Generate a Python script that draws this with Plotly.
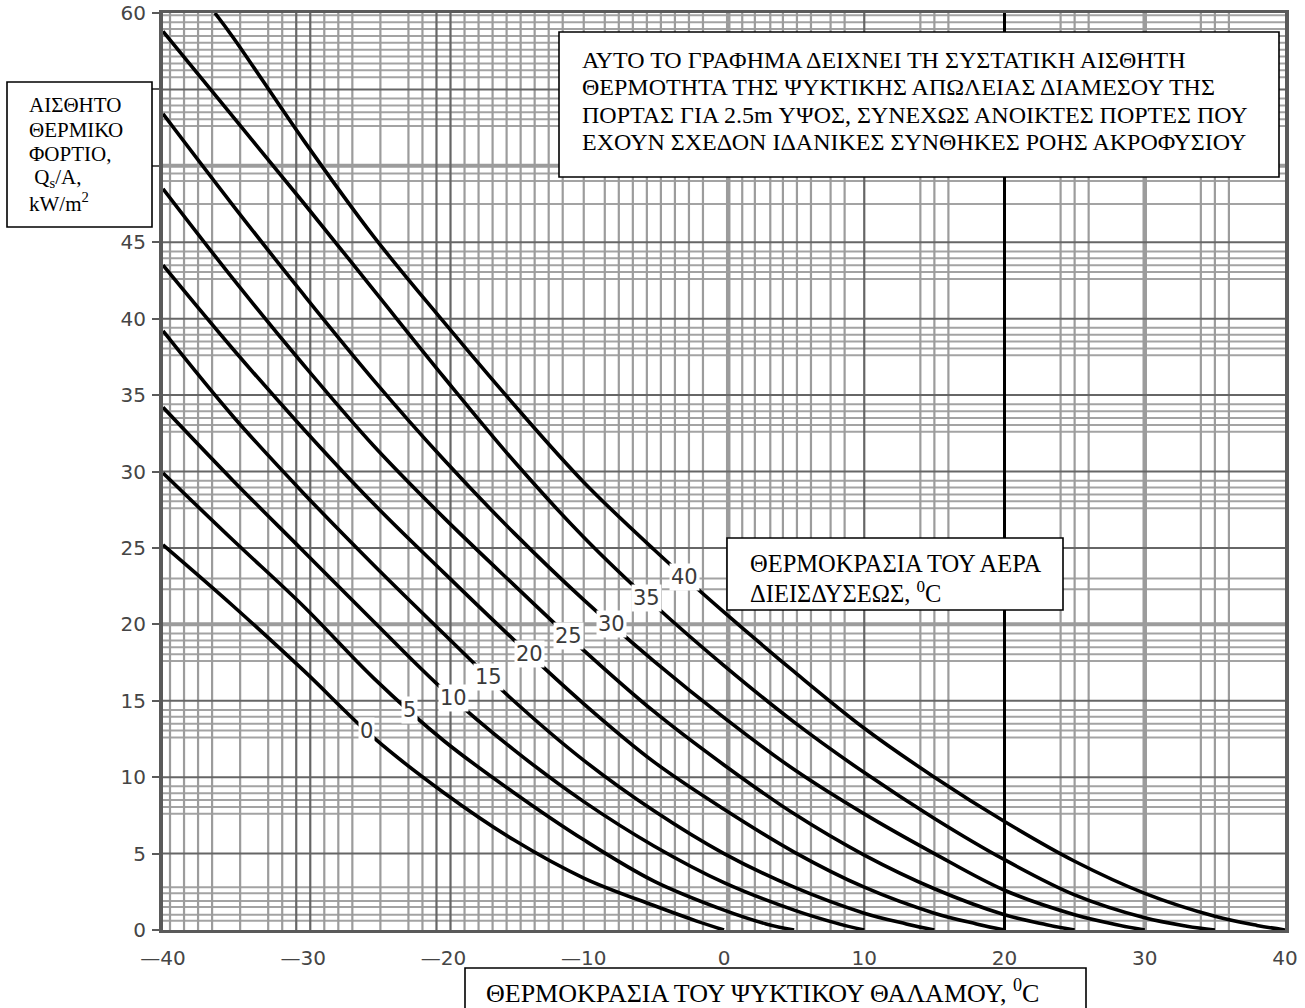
import numpy as np
import plotly.graph_objects as go

# ---------------------------------------------------------------------------
# Sensible heat load of a continuously open 2.5 m door, kW/m^2
# x: cold-room temperature (degC), one curve per infiltration-air temperature
# ---------------------------------------------------------------------------
air_temps = [0, 5, 10, 15, 20, 25, 30, 35, 40]

room_t0 = [-40, -35, -30, -25, -20, -15, -10, -5, -2, 0]
load_t0 = [25.2, 21.2, 17.0, 12.6, 9.0, 5.9, 3.4, 1.6, 0.6, 0.0]

room_t5 = [-40, -35, -30, -25, -20, -15, -10, -5, 0, 3, 5]
load_t5 = [29.9, 25.5, 21.2, 16.5, 12.4, 9.0, 5.9, 3.2, 1.3, 0.4, 0.0]

room_t10 = [-40, -35, -30, -25, -20, -15, -10, -5, 0, 5, 8, 10]
load_t10 = [34.2, 29.4, 24.8, 20.2, 15.7, 11.8, 8.4, 5.5, 3.1, 1.3, 0.45, 0.0]

room_t15 = [-40, -35, -30, -25, -20, -15, -10, -5, 0, 5, 10, 13, 15]
load_t15 = [39.2, 33.6, 28.6, 23.9, 19.4, 15.0, 11.1, 7.8, 5.0, 2.8, 1.1, 0.4, 0.0]

room_t20 = [-40, -35, -30, -25, -20, -15, -10, -5, 0, 5, 10, 15, 18, 20]
load_t20 = [43.5, 38.0, 32.8, 27.9, 23.4, 19.0, 14.8, 11.0, 7.9, 5.1, 2.8, 1.1, 0.4, 0.0]

room_t25 = [-40, -35, -30, -25, -20, -15, -10, -5, 0, 5, 10, 15, 20, 23, 25]
load_t25 = [48.5, 42.6, 37.0, 31.7, 27.0, 22.6, 18.3, 14.3, 10.8, 7.6, 4.9, 2.7, 1.0, 0.35, 0.0]

room_t30 = [-40, -35, -30, -25, -20, -15, -10, -5, 0, 5, 10, 15, 20, 25, 28, 30]
load_t30 = [53.4, 47.4, 41.6, 36.0, 30.8, 26.0, 21.6, 17.6, 13.9, 10.5, 7.6, 5.0, 2.6, 1.0, 0.35, 0.0]

room_t35 = [-40, -35, -30, -25, -20, -15, -10, -5, 0, 5, 10, 15, 20, 25, 30, 33, 35]
load_t35 = [58.8, 53.2, 47.6, 41.9, 36.2, 30.7, 25.7, 21.3, 17.3, 13.6, 10.3, 7.3, 4.6, 2.3, 0.8, 0.25, 0.0]

room_t40 = [-36.3, -35, -30, -25, -20, -15, -10, -5, 0, 5, 10, 15, 20, 25, 30, 35, 38, 40]
load_t40 = [60.0, 58.4, 51.7, 45.4, 39.8, 34.4, 29.3, 24.9, 20.8, 16.9, 13.2, 10.0, 7.1, 4.5, 2.4, 0.9, 0.3, 0.0]

# where each curve carries its temperature tag
tag_room_temp = [-25.5, -22.4, -19.3, -16.8, -13.9, -11.1, -8.0, -5.5, -2.8]

x_tick_vals = [-40, -30, -20, -10, 0, 10, 20, 30, 40]
x_tick_text = ["\u201440", "\u201430", "\u201420", "\u201410", "0", "10", "20", "30", "40"]
y_tick_vals = list(range(0, 61, 5))

curves = [
    (room_t0, load_t0), (room_t5, load_t5), (room_t10, load_t10),
    (room_t15, load_t15), (room_t20, load_t20), (room_t25, load_t25),
    (room_t30, load_t30), (room_t35, load_t35), (room_t40, load_t40),
]

X_MIN, X_MAX, Y_MIN, Y_MAX = -40, 40, 0, 60

# plot-area geometry in page pixels (used to place the framed notes)
W, H = 1305, 1008
PL, PR, PT, PB = 163, 1285, 13, 930


def px(xp):
    return (xp - PL) / (PR - PL)


def py(yp):
    return (PB - yp) / (PB - PT)


fig = go.Figure()


# ---- chart-paper grid ------------------------------------------------------
def vseg(xs):
    xx, yy = [], []
    for v in xs:
        xx += [v, v, None]
        yy += [Y_MIN, Y_MAX, None]
    return xx, yy


def hseg(ys):
    xx, yy = [], []
    for v in ys:
        xx += [X_MIN, X_MAX, None]
        yy += [v, v, None]
    return xx, yy


light_v = []
for base in (-40, -30):
    light_v += [base + o for o in (1.5, 2.5, 3.5, 5.5, 7.5, 8.5)]
light_v += [-39.5]
for base in (-20, -10):
    light_v += [base + o for o in (1.5, 2.5, 3.5, 4.5, 5.5, 6.5, 7.5, 8.5)]
light_v += [-10.0]
light_v += [1.3, 2.2, 3.3, 4.2, 5.2, 6.2, 7.6, 8.6]
for base in (10, 20, 30):
    light_v += [base + o for o in (4.0, 5.0, 6.0)]
dark_v = [-30.5, -29.5, -20.5, -19.5, 10.0]
heavy_v = [0.3, 30.0]

cluster = (2.6, 3.05, 3.5, 3.95, 4.4)
light_h = []
for base in range(0, 55, 5):
    if base == 20:
        light_h += [22.3, 23.0]
    elif base == 45:
        light_h += [47.5, 49.0, 49.5]
    elif base == 0:
        light_h += [0.6, 1.0, 1.5, 1.9, 2.4, 2.8]
    else:
        light_h += [base + o for o in cluster]
light_h += [55.8 + 0.45 * i for i in range(10)]
dark_h = [5, 10, 15, 25, 30, 35, 40, 45, 55]
heavy_h = [20, 50]

grid_specs = [
    (hseg(light_h), "#a3a3a3", 2),
    (vseg(light_v), "#9c9c9c", 2.2),
    (hseg(heavy_h), "#9c9c9c", 4),
    (vseg(heavy_v), "#9c9c9c", 4.5),
    (hseg(dark_h), "#666666", 2),
    (vseg(dark_v), "#666666", 2.2),
    (vseg([20.0]), "#000000", 3),
]
for (gx, gy), col, w in grid_specs:
    fig.add_trace(go.Scatter(x=gx, y=gy, mode="lines",
                             line=dict(color=col, width=w),
                             hoverinfo="skip", showlegend=False))

# ---- load curves -----------------------------------------------------------
for t, (cx, cy) in zip(air_temps, curves):
    fig.add_trace(go.Scatter(x=cx, y=cy, mode="lines", name=f"{t} \u00b0C",
                             line=dict(color="black", width=3.6, shape="spline"),
                             showlegend=False))

annotations = []
for t, (cx, cy), tx in zip(air_temps, curves, tag_room_temp):
    annotations.append(dict(
        x=tx, y=float(np.interp(tx, cx, cy)), xref="x", yref="y",
        text=str(t), showarrow=False, bgcolor="white", borderpad=1,
        font=dict(family="DejaVu Sans", size=21, color="#3a3a3a")))

# ---- framed notes ----------------------------------------------------------
serif = "Liberation Serif, Times New Roman, serif"
boxes = [(7, 82, 152, 227), (559, 32, 1279, 177), (727, 538, 1063, 610),
         (465, 968, 1086, 1012)]
shapes = []
for x0, y0, x1, y1 in boxes:
    shapes.append(dict(type="rect", xref="paper", yref="paper",
                       x0=px(x0), x1=px(x1), y0=py(y1), y1=py(y0),
                       fillcolor="white", line=dict(color="black", width=1.6),
                       layer="above"))

# (left px, centre px, font size, text) for each printed line
note_lines = [
    (27, 105, 21, "\u0391\u0399\u03a3\u0398\u0397\u03a4\u039f"),
    (27, 130, 21, "\u0398\u0395\u03a1\u039c\u0399\u039a\u039f"),
    (27, 154, 21, "\u03a6\u039f\u03a1\u03a4\u0399\u039f,"),
    (27, 178, 21, "\u00a0Q<sub>s</sub>/A,"),
    (27, 202, 21, "kW/m<sup>2</sup>"),
    (580, 60, 24,
     "\u0391\u03a5\u03a4\u039f \u03a4\u039f \u0393\u03a1\u0391\u03a6\u0397\u039c\u0391 "
     "\u0394\u0395\u0399\u03a7\u039d\u0395\u0399 \u03a4\u0397 \u03a3\u03a5\u03a3\u03a4\u0391\u03a4\u0399\u039a\u0397 "
     "\u0391\u0399\u03a3\u0398\u0397\u03a4\u0397"),
    (580, 87, 24,
     "\u0398\u0395\u03a1\u039c\u039f\u03a4\u0397\u03a4\u0391 \u03a4\u0397\u03a3 \u03a8\u03a5\u039a\u03a4\u0399\u039a\u0397\u03a3 "
     "\u0391\u03a0\u03a9\u039b\u0395\u0399\u0391\u03a3 \u0394\u0399\u0391\u039c\u0395\u03a3\u039f\u03a5 \u03a4\u0397\u03a3"),
    (580, 115, 24,
     "\u03a0\u039f\u03a1\u03a4\u0391\u03a3 \u0393\u0399\u0391 2.5m \u03a5\u03a8\u039f\u03a3, "
     "\u03a3\u03a5\u039d\u0395\u03a7\u03a9\u03a3 \u0391\u039d\u039f\u0399\u039a\u03a4\u0395\u03a3 "
     "\u03a0\u039f\u03a1\u03a4\u0395\u03a3 \u03a0\u039f\u03a5"),
    (580, 142, 24,
     "\u0395\u03a7\u039f\u03a5\u039d \u03a3\u03a7\u0395\u0394\u039f\u039d \u0399\u0394\u0391\u039d\u0399\u039a\u0395\u03a3 "
     "\u03a3\u03a5\u039d\u0398\u0397\u039a\u0395\u03a3 \u03a1\u039f\u0397\u03a3 "
     "\u0391\u039a\u03a1\u039f\u03a6\u03a5\u03a3\u0399\u039f\u03a5"),
    (748, 563, 24.5,
     "\u0398\u0395\u03a1\u039c\u039f\u039a\u03a1\u0391\u03a3\u0399\u0391 \u03a4\u039f\u03a5 \u0391\u0395\u03a1\u0391"),
    (748, 592, 24.5,
     "\u0394\u0399\u0395\u0399\u03a3\u0394\u03a5\u03a3\u0395\u03a9\u03a3, <sup>0</sup>C"),
    (484, 991, 26,
     "\u0398\u0395\u03a1\u039c\u039f\u039a\u03a1\u0391\u03a3\u0399\u0391 \u03a4\u039f\u03a5 "
     "\u03a8\u03a5\u039a\u03a4\u0399\u039a\u039f\u03a5 \u0398\u0391\u039b\u0391\u039c\u039f\u03a5, <sup>0</sup>C"),
]
for x0, yc, size, text in note_lines:
    annotations.append(dict(
        x=px(x0), y=py(yc), xref="paper", yref="paper", xanchor="left",
        yanchor="middle", align="left", showarrow=False, text=text,
        font=dict(family=serif, size=size, color="black")))

tick_font = dict(family="DejaVu Sans", size=20, color="#454545")
fig.update_layout(
    width=W, height=H, autosize=False,
    margin=dict(l=PL, r=W - PR, t=PT, b=H - PB, autoexpand=False),
    paper_bgcolor="white", plot_bgcolor="white",
    showlegend=False, shapes=shapes, annotations=annotations,
    xaxis=dict(range=[X_MIN, X_MAX], tickvals=x_tick_vals, ticktext=x_tick_text,
               showgrid=False, zeroline=False, showline=True, mirror=True,
               linecolor="#5a5a5a", linewidth=3, ticks="", tickfont=tick_font,
               ticklabelstandoff=8, automargin=False),
    yaxis=dict(range=[Y_MIN, Y_MAX], tickvals=y_tick_vals,
               showgrid=False, zeroline=False, showline=True, mirror=True,
               linecolor="#5a5a5a", linewidth=4, ticks="outside", ticklen=7,
               tickcolor="#5a5a5a", tickwidth=2, tickfont=tick_font,
               ticklabelstandoff=2, automargin=False,
               ticklabeloverflow="allow"),
)

fig.write_html("out.html")
